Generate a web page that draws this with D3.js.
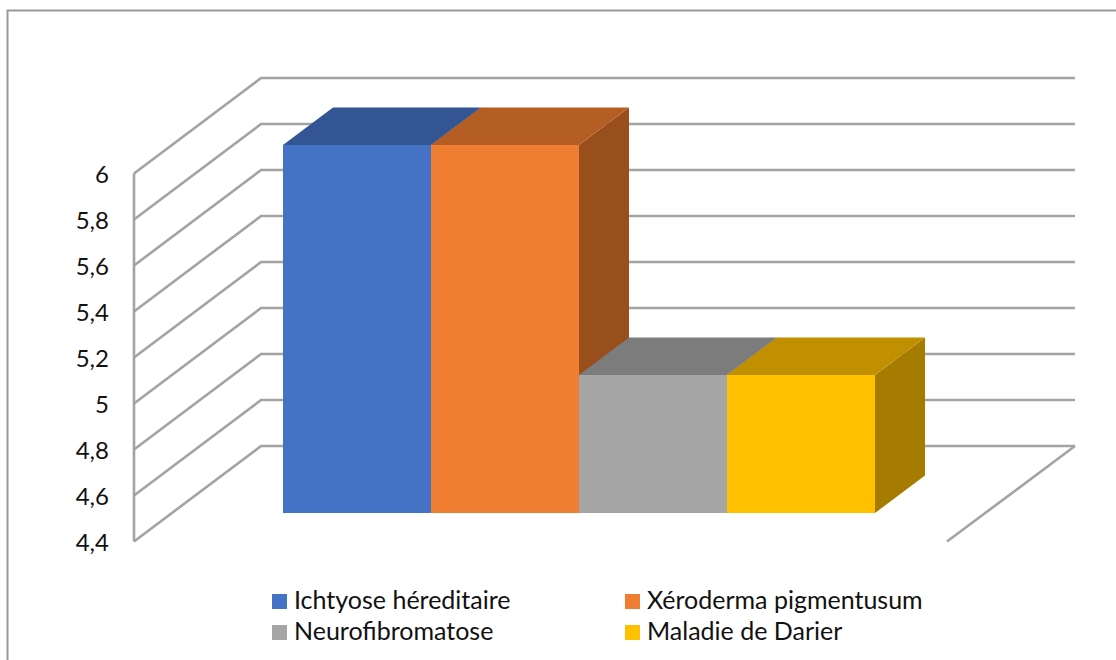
<!DOCTYPE html>
<html>
<head>
<meta charset="utf-8">
<script src="https://cdn.jsdelivr.net/npm/d3@7"></script>
<style>
html,body{margin:0;padding:0;background:#fff;overflow:hidden}
svg{display:block}
text{font-family:Lato,"Noto Sans",sans-serif;fill:#111}
</style>
</head>
<body>
<svg id="chart" width="1116" height="660"></svg>
<script>
const seriesNames = ["Ichtyose héreditaire", "Xéroderma pigmentusum", "Neurofibromatose", "Maladie de Darier"];
const seriesValues = [6, 6, 5, 5];
const tickValues = [4.4, 4.6, 4.8, 5, 5.2, 5.4, 5.6, 5.8, 6];
const frontColors = ["#4472C4", "#EF7E32", "#A5A5A5", "#FFC000"];
const topColors = ["#335593", "#B55E24", "#7C7C7C", "#C09000"];
const sideColors = ["#2A4778", "#984F1C", "#686868", "#A67C00"];

const svg = d3.select("#chart");
const gridColor = "#a3a3a3";

// chart frame
svg.append("path")
  .attr("d", d3.line()([[7.5, 660], [7.5, 10.5], [1116, 10.5]]))
  .attr("fill", "none").attr("stroke", "#999").attr("stroke-width", 2);

// scales: y on the front plane of the box, x across the bars
const y = d3.scaleLinear().domain([4.4, 6]).range([541.5, 173.5]);
const x = d3.scaleBand().domain(seriesNames).range([283, 875]);

// projection offsets
const wallDx = 127, wallDy = -95.5, wallRight = 1075, floorFrontX = 947;
const barShiftY = -28.5, barDx = 50, barDy = -37.5;
const axisX = 134;

const line = d3.line();
const grid = svg.append("g").attr("fill", "none").attr("stroke", gridColor).attr("stroke-width", 2.6);

tickValues.forEach(v => {
  grid.append("path").attr("d", line([
    [axisX, y(v)], [axisX + wallDx, y(v) + wallDy], [wallRight, y(v) + wallDy]
  ]));
});
grid.append("path").attr("d", line([[axisX, y(6)], [axisX, y(4.4)]]));
grid.append("path").attr("d", line([
  [wallRight, y(4.4) + wallDy], [floorFrontX, y(4.4)]
]));

// axis labels
const axis = d3.axisLeft(y).tickValues(tickValues).tickSize(0)
  .tickFormat(d => String(d).replace(".", ","));
const axisG = svg.append("g").attr("transform", "translate(109,0)").call(axis);
axisG.select(".domain").remove();
axisG.selectAll("text")
  .attr("x", 0).attr("dy", null).attr("y", -1)
  .attr("dominant-baseline", "central")
  .attr("font-size", 24).style("font-family", "Lato,'Noto Sans',sans-serif").attr("fill", "#111");

// bars
const bars = svg.append("g");
seriesNames.forEach((name, i) => {
  const x0 = x(name), x1 = x0 + x.bandwidth();
  const yb = y(4.4) + barShiftY;
  const yt = y(seriesValues[i]) + barShiftY;
  const g = bars.append("g");
  g.append("path").attr("fill", sideColors[i]).attr("d", line([
    [x1, yt], [x1 + barDx, yt + barDy], [x1 + barDx, yb + barDy], [x1, yb]
  ]) + "Z");
  g.append("path").attr("fill", topColors[i]).attr("d", line([
    [x0, yt], [x0 + barDx, yt + barDy], [x1 + barDx, yt + barDy], [x1, yt]
  ]) + "Z");
  g.append("rect").attr("x", x0).attr("y", yt)
    .attr("width", x.bandwidth()).attr("height", yb - yt)
    .attr("fill", frontColors[i]);
});

// legend
const legendX = d3.scaleOrdinal().domain([0, 1]).range([272, 625]);
const legendY = d3.scaleOrdinal().domain([0, 1]).range([594, 625]);
seriesNames.forEach((name, i) => {
  const col = i % 2, row = Math.floor(i / 2);
  svg.append("rect").attr("x", legendX(col)).attr("y", legendY(row))
    .attr("width", 15).attr("height", 15).attr("fill", frontColors[i]);
  svg.append("text").attr("x", legendX(col) + 22).attr("y", legendY(row) + 15)
    .attr("font-size", 25).text(name);
});
</script>
</body>
</html>
